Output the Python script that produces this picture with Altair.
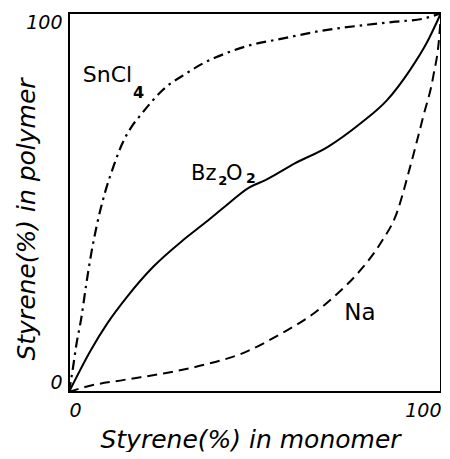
import altair as alt
import pandas as pd

# SnCl4 curve (dash-dot)
snc_x = [0, 1.1, 1.9, 3.3, 4.6, 5.9, 7.5, 9.5, 12.1, 14.3, 16.5, 19.6, 25.2, 31.6, 36.0, 39.5, 48.3, 57.6, 67.8, 77.5, 87.7, 95.2, 100]
snc_y = [0, 6.6, 12.0, 19.5, 28.2, 36.1, 44.1, 52.0, 59.9, 65.5, 69.5, 73.5, 79.7, 84.1, 86.7, 88.3, 91.4, 93.3, 95.3, 96.6, 97.7, 98.5, 100]

# Bz2O2 curve (solid)
bz_x = [0, 5.9, 10.3, 15.6, 22.7, 30.7, 36.9, 42.0, 48.5, 52.8, 60.7, 69.6, 78.4, 85.5, 91.7, 96.1, 100]
bz_y = [0, 11.1, 18.1, 25.1, 33.1, 40.1, 44.9, 49.0, 54.0, 55.9, 60.3, 64.7, 70.9, 77.0, 85.0, 92.0, 100]

# Na curve (dashed)
na_x = [0, 4.6, 14.8, 25.4, 36.0, 46.6, 57.2, 65.2, 72.2, 78.4, 83.7, 88.1, 91.7, 95.2, 97.9, 99.6, 100]
na_y = [0, 1.4, 3.2, 4.9, 7.1, 10.2, 15.5, 20.3, 26.0, 32.2, 39.2, 47.2, 59.4, 72.6, 83.2, 94.6, 100]

# curve labels (main text and subscripts)
lab_text = ["SnCl", "4", "Bz", "2", "O", "2", "Na"]
lab_x = [3.7, 17.2, 32.8, 40.1, 42.2, 47.6, 74.0]
lab_y = [81.9, 77.5, 55.9, 54.6, 55.9, 55.1, 19.0]
lab_size = [22, 16, 21, 13, 21, 14, 23]
lab_weight = ["normal", "bold", "normal", "bold", "normal", "bold", "normal"]

tick_values = [0, 100]
x_title = "Styrene(%) in monomer"
y_title = "Styrene(%) in polymer"

FONT = "DejaVu Sans"

xs = alt.Scale(domain=[0, 100], nice=False, zero=False)
ys = alt.Scale(domain=[0, 100], nice=False, zero=False)

X = alt.X(
    "x:Q", scale=xs,
    axis=alt.Axis(
        values=tick_values, format="d", labelFlush=True, ticks=False, domain=False, grid=False,
        labelFont=FONT, labelFontSize=19, labelFontStyle="italic", labelColor="black", labelPadding=9,
        title=x_title, titleFont=FONT, titleFontSize=25, titleFontStyle="italic", titleFontWeight="normal",
        titleColor="black", titleX=181, titleY=55, titleAlign="center", titleBaseline="alphabetic",
    ),
)
Y = alt.Y(
    "y:Q", scale=ys,
    axis=alt.Axis(
        values=tick_values, format="d", labelFlush=True, ticks=False, domain=False, grid=False,
        labelFont=FONT, labelFontSize=19, labelFontStyle="italic", labelColor="black", labelPadding=7,
        title=y_title, titleFont=FONT, titleFontSize=25, titleFontStyle="italic", titleFontWeight="normal",
        titleColor="black", titleAngle=270, titleX=-43, titleY=206, titleAlign="center", titleBaseline="middle",
    ),
)

snc = pd.DataFrame({"x": snc_x, "y": snc_y})
bz = pd.DataFrame({"x": bz_x, "y": bz_y})
na = pd.DataFrame({"x": na_x, "y": na_y})
labs = pd.DataFrame({"x": lab_x, "y": lab_y, "t": lab_text, "s": lab_size, "w": lab_weight})

l_snc = alt.Chart(snc).mark_line(color="black", strokeWidth=2.2, strokeDash=[10, 5, 2.5, 5], interpolate="monotone").encode(x=X, y=Y)
l_bz = alt.Chart(bz).mark_line(color="black", strokeWidth=2, interpolate="monotone").encode(x=X, y=Y)
l_na = alt.Chart(na).mark_line(color="black", strokeWidth=2, strokeDash=[10, 6], interpolate="monotone").encode(x=X, y=Y)

t_norm = alt.Chart(labs).transform_filter(alt.datum.w == "normal").mark_text(
    align="left", baseline="alphabetic", font=FONT, color="black"
).encode(x=X, y=Y, text="t:N", size=alt.Size("s:Q", scale=None, legend=None))
t_bold = alt.Chart(labs).transform_filter(alt.datum.w == "bold").mark_text(
    align="left", baseline="alphabetic", font=FONT, color="black", fontWeight="bold"
).encode(x=X, y=Y, text="t:N", size=alt.Size("s:Q", scale=None, legend=None))

chart = alt.layer(l_snc, l_bz, l_na, t_norm, t_bold).properties(
    width=372, height=379,
    autosize=alt.AutoSizeParams(type="none"),
    padding={"left": 61, "top": 5, "right": 0, "bottom": 60},
).configure_view(stroke="black", strokeWidth=2)

chart.save("out.html", embed_options={"renderer": "svg", "actions": False})
